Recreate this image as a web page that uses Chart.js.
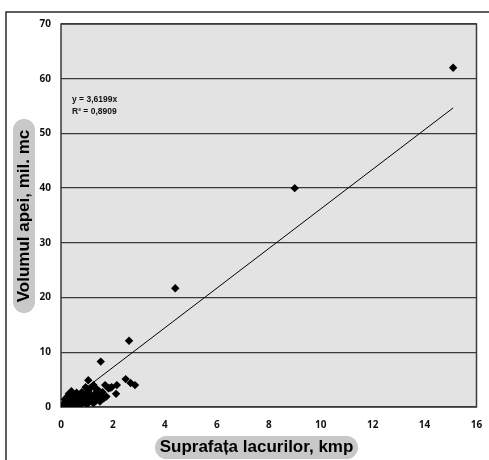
<!DOCTYPE html>
<html>
<head>
<meta charset="utf-8">
<style>
  html, body { margin: 0; padding: 0; background: #ffffff; }
  #wrap { position: relative; width: 489px; height: 460px; }
</style>
<script src="https://cdn.jsdelivr.net/npm/chart.js@4.4.1/dist/chart.umd.min.js"></script>
</head>
<body>
<div id="wrap"><canvas id="c" width="489" height="460"></canvas></div>
<script>
// ---- Data ----
const areaKmp = [
  15.1, 9.0, 4.4, 2.62, 1.53, 2.49, 2.68, 2.85,
  1.05, 1.25, 1.70, 1.83, 1.95, 2.15, 2.12, 1.89, 1.35,
  0.10, 0.15, 0.20, 0.25, 0.30, 0.30, 0.35, 0.40, 0.45, 0.50, 0.50, 0.55,
  0.60, 0.60, 0.65, 0.70, 0.70, 0.75, 0.80, 0.80, 0.85, 0.90, 0.90, 0.95,
  1.00, 1.00, 1.05, 1.10, 1.15, 1.20, 1.25, 1.30, 1.35, 1.40, 1.50, 1.55,
  1.65, 1.75, 1.45, 1.10, 0.95, 0.25, 0.40, 0.15, 0.55, 1.60, 1.30
];
const volumeMilMc = [
  62.0, 40.0, 21.7, 12.1, 8.3, 5.1, 4.4, 4.0,
  4.9, 4.0, 4.0, 3.4, 3.6, 4.0, 2.4, 3.5, 3.3,
  0.3, 0.8, 1.2, 0.5, 2.4, 1.6, 0.9, 0.4, 1.8, 1.2, 2.2, 0.7,
  1.5, 2.6, 0.3, 1.0, 2.0, 1.6, 0.6, 2.7, 1.3, 0.9, 2.3, 1.8,
  0.5, 1.4, 2.8, 1.0, 2.0, 1.5, 0.7, 2.4, 1.2, 1.9, 1.0, 2.1,
  1.6, 1.9, 3.0, 3.3, 3.6, 1.9, 2.9, 1.4, 0.2, 2.7, 3.6
];
const trendSlope = 3.6199;
const trendLabel = ["y = 3,6199x", "R\u00B2 = 0,8909"];
const xTicks = [0, 2, 4, 6, 8, 10, 12, 14, 16];
const yTicks = [0, 10, 20, 30, 40, 50, 60, 70];
const xTitle = "Suprafa\u021Ba lacurilor, kmp";
const yTitle = "Volumul apei, mil. mc";

// ---- Build datasets ----
const points = areaKmp.map((x, i) => ({ x: x, y: volumeMilMc[i] }));
const xMin = Math.min(...areaKmp), xMax = Math.max(...areaKmp);
const trend = [ { x: xMin, y: trendSlope * xMin }, { x: xMax, y: trendSlope * xMax } ];

const decor = {
  id: 'decor',
  beforeDraw(chart) {
    const ctx = chart.ctx, a = chart.chartArea;
    ctx.save();
    ctx.strokeStyle = '#2a2a2a';
    ctx.lineWidth = 1.5;
    ctx.beginPath();
    ctx.moveTo(6, 460); ctx.lineTo(6, 12); ctx.lineTo(489, 12);
    ctx.stroke();
    ctx.fillStyle = '#e3e3e3';
    ctx.fillRect(a.left, a.top, a.right - a.left, a.bottom - a.top);
    ctx.fillStyle = '#c8c8c8';
    ctx.beginPath();
    ctx.roundRect(155, 436, 203, 23, 11.5);
    ctx.fill();
    ctx.beginPath();
    ctx.roundRect(13, 119, 22, 194, 11);
    ctx.fill();
    ctx.restore();
  },
  beforeDatasetsDraw(chart) {
    const ctx = chart.ctx, a = chart.chartArea;
    ctx.save();
    ctx.strokeStyle = '#3a3a3a';
    ctx.lineWidth = 1.5;
    ctx.strokeRect(a.left, a.top, a.right - a.left, a.bottom - a.top);
    ctx.restore();
  },
  afterDraw(chart) {
    const ctx = chart.ctx;
    ctx.save();
    ctx.fillStyle = '#000';
    ctx.font = 'bold 17px "Liberation Sans", Arial, sans-serif';
    ctx.textAlign = 'center';
    ctx.textBaseline = 'middle';
    ctx.fillText(xTitle, 256.5, 447.5);
    ctx.translate(24, 216);
    ctx.rotate(-Math.PI / 2);
    ctx.fillText(yTitle, 0, 0);
    ctx.restore();
    ctx.save();
    ctx.fillStyle = '#111';
    ctx.font = 'bold 8.5px "Liberation Sans", Arial, sans-serif';
    ctx.textAlign = 'left';
    ctx.textBaseline = 'middle';
    ctx.fillText(trendLabel[0], 72, 99.5);
    ctx.fillText(trendLabel[1], 72, 111.5);
    ctx.restore();
  }
};

new Chart(document.getElementById('c'), {
  type: 'scatter',
  data: {
    datasets: [
      {
        label: 'Lacuri',
        data: points,
        pointStyle: 'rectRot',
        pointRadius: 4.2,
        pointHoverRadius: 4.2,
        backgroundColor: '#000',
        borderColor: '#000',
        borderWidth: 0,
        order: 1
      },
      {
        label: 'Trend',
        type: 'line',
        data: trend,
        borderColor: '#000',
        borderWidth: 1,
        pointRadius: 0,
        fill: false,
        order: 2
      }
    ]
  },
  plugins: [decor],
  options: {
    responsive: false,
    animation: false,
    devicePixelRatio: 1,
    layout: { padding: { left: 0, top: 24, right: 12.5, bottom: 0 } },
    plugins: { legend: { display: false }, tooltip: { enabled: false } },
    scales: {
      x: {
        type: 'linear',
        min: 0, max: 16,
        afterFit(s) { s.height = 53; s.paddingLeft = 0; s.paddingRight = 0; },
        afterBuildTicks(s) { s.ticks = xTicks.map(v => ({ value: v })); },
        grid: { display: false, drawTicks: false },
        border: { display: false },
        ticks: {
          padding: 12,
          color: '#111',
          font: { family: '"Open Sans", "Liberation Sans", sans-serif', weight: 'bold', size: 10 }
        }
      },
      y: {
        type: 'linear',
        min: 0, max: 70,
        afterFit(s) { s.width = 61; s.paddingTop = 0; s.paddingBottom = 0; },
        afterBuildTicks(s) { s.ticks = yTicks.map(v => ({ value: v })); },
        grid: { color: '#3a3a3a', lineWidth: 1.3, drawTicks: false },
        border: { display: false },
        ticks: {
          padding: 10,
          color: '#111',
          font: { family: '"Open Sans", "Liberation Sans", sans-serif', weight: 'bold', size: 10 }
        }
      }
    }
  }
});
</script>
</body>
</html>
